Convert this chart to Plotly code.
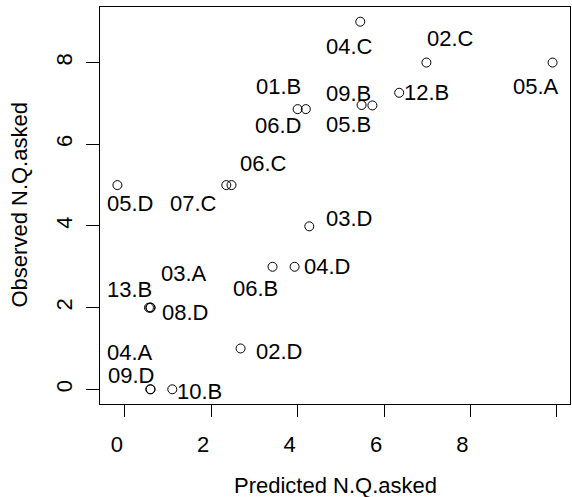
import plotly.graph_objects as go

# ---- data ----
labels = ["04.C", "02.C", "05.A", "12.B", "01.B", "06.D", "09.B", "05.B",
          "06.C", "07.C", "05.D", "03.D", "04.D", "06.B", "03.A", "13.B",
          "08.D", "02.D", "04.A", "09.D", "10.B"]
predicted = [5.45, 6.98, 9.90, 6.35, 4.00, 4.19, 5.48, 5.73,
             2.47, 2.35, -0.17, 4.27, 3.93, 3.42, 0.59, 0.56,
             0.60, 2.68, 0.59, 0.60, 1.10]
observed = [9.00, 8.00, 8.00, 7.26, 6.86, 6.86, 6.96, 6.95,
            5.00, 5.00, 5.00, 3.99, 3.00, 3.00, 2.00, 2.00,
            2.00, 1.00, 0.00, 0.00, 0.00]
x_ticks = [0, 2, 4, 6, 8, 10]
x_ticktext = ["0", "2", "4", "6", "8", ""]
y_ticks = [0, 2, 4, 6, 8]

# ---- label placement (pixel offsets from each point: right, down) ----
label_offsets = [(-11, 25), (24, -24), (-17, 24), (27, 0), (-19, -23), (-28, 16),
                 (-13, -12), (-24, 19), (32, -22), (-33, 18), (13, 18), (40, -8),
                 (32, 0), (-17, 22), (34, -34), (-19, -18), (34, 5), (38, 3),
                 (-20, -37), (-20, -14), (27, 2)]

def r_range(v):
    lo, hi = min(v), max(v)
    d = hi - lo
    return [lo - 0.04 * d, hi + 0.04 * d]

FONT = "Liberation Sans, Arial, Helvetica, sans-serif"
FS = 22

fig = go.Figure()
fig.add_trace(go.Scatter(
    x=predicted, y=observed, mode="markers",
    marker=dict(symbol="circle-open", size=9, color="black", line=dict(width=1)),
    hoverinfo="skip", showlegend=False,
))

annotations = []
for lab, xv, yv, (dx, dy) in zip(labels, predicted, observed, label_offsets):
    annotations.append(dict(
        x=xv, y=yv, xref="x", yref="y", text=lab, showarrow=False,
        xshift=dx, yshift=-dy, xanchor="center", yanchor="middle",
        font=dict(family=FONT, size=FS, color="black"),
    ))

annotations.append(dict(
    x=0.5, y=0, xref="paper", yref="paper", text="Predicted N.Q.asked",
    showarrow=False, xanchor="center", yanchor="middle", yshift=-81,
    font=dict(family=FONT, size=FS, color="black"),
))
annotations.append(dict(
    x=0, y=0.5, xref="paper", yref="paper", text="Observed N.Q.asked",
    showarrow=False, xanchor="center", yanchor="middle", xshift=-81,
    textangle=-90, font=dict(family=FONT, size=FS, color="black"),
))

axis_common = dict(
    showgrid=False, zeroline=False, showline=True, mirror=True,
    linecolor="black", linewidth=1, ticks="outside", tickcolor="black",
    tickwidth=1, tickfont=dict(family=FONT, size=FS, color="black"),
)

fig.update_layout(
    width=572, height=497,
    margin=dict(l=100, r=2, t=7, b=93),
    paper_bgcolor="white", plot_bgcolor="white",
    xaxis=dict(range=r_range(predicted), tickvals=x_ticks, ticktext=x_ticktext,
               ticklen=12, ticklabelshift=-8, ticklabelstandoff=9, **axis_common),
    yaxis=dict(range=r_range(observed), tickvals=y_ticks, ticklen=13,
               tickangle=-90, ticklabelstandoff=5, **axis_common),
    annotations=annotations,
    font=dict(family=FONT, color="black"),
)

fig.write_html("out.html", config={"displayModeBar": False},
               post_script="document.body.style.margin='0';document.body.style.overflow='hidden';")
